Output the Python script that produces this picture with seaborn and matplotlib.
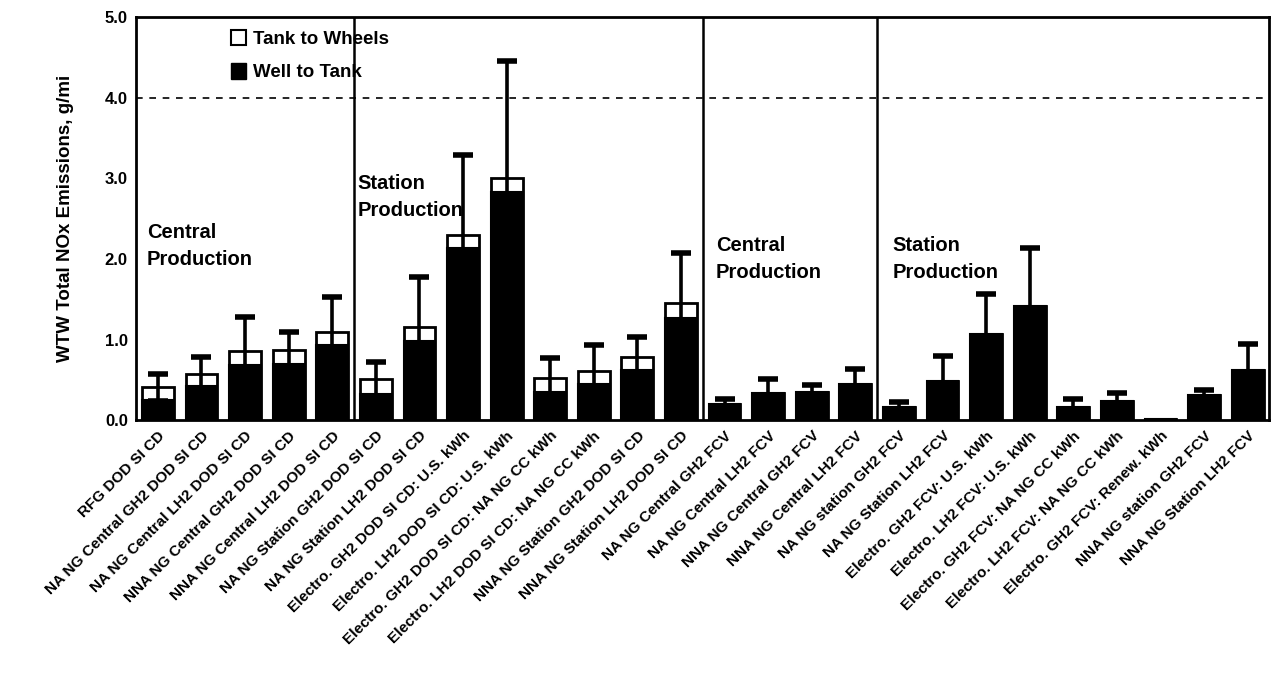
import numpy as np
import pandas as pd
import matplotlib
matplotlib.use("Agg")
import matplotlib.pyplot as plt
import matplotlib.patches as patches
import seaborn as sns

# --- data ---
categories = [
    "RFG DOD SI CD",
    "NA NG Central GH2 DOD SI CD",
    "NA NG Central LH2 DOD SI CD",
    "NNA NG Central GH2 DOD SI CD",
    "NNA NG Central LH2 DOD SI CD",
    "NA NG Station GH2 DOD SI CD",
    "NA NG Station LH2 DOD SI CD",
    "Electro. GH2 DOD SI CD: U.S. kWh",
    "Electro. LH2 DOD SI CD: U.S. kWh",
    "Electro. GH2 DOD SI CD: NA NG CC kWh",
    "Electro. LH2 DOD SI CD: NA NG CC kWh",
    "NNA NG Station GH2 DOD SI CD",
    "NNA NG Station LH2 DOD SI CD",
    "NA NG Central GH2 FCV",
    "NA NG Central LH2 FCV",
    "NNA NG Central GH2 FCV",
    "NNA NG Central LH2 FCV",
    "NA NG station GH2 FCV",
    "NA NG Station LH2 FCV",
    "Electro. GH2 FCV: U.S. kWh",
    "Electro. LH2 FCV: U.S. kWh",
    "Electro. GH2 FCV: NA NG CC kWh",
    "Electro. LH2 FCV: NA NG CC kWh",
    "Electro. GH2 FCV: Renew. kWh",
    "NNA NG station GH2 FCV",
    "NNA NG Station LH2 FCV",
]
well_to_tank = [0.25, 0.43, 0.68, 0.70, 0.93, 0.33, 0.98, 2.13, 2.83, 0.35, 0.45, 0.62, 1.27,
                0.20, 0.34, 0.35, 0.45, 0.17, 0.49, 1.07, 1.42, 0.17, 0.24, 0.01, 0.31, 0.62]
tank_to_wheels = [0.16, 0.15, 0.18, 0.17, 0.17, 0.18, 0.18, 0.17, 0.17, 0.17, 0.16, 0.17, 0.18,
                  0, 0, 0, 0, 0, 0, 0, 0, 0, 0, 0, 0, 0]
error = [0.17, 0.21, 0.42, 0.23, 0.43, 0.21, 0.62, 0.99, 1.45, 0.25, 0.32, 0.24, 0.62,
         0.06, 0.17, 0.09, 0.19, 0.06, 0.31, 0.49, 0.71, 0.09, 0.10, 0.0, 0.07, 0.32]
group_breaks = [4.5, 12.5, 16.5]
group_notes = [
    (-0.25, 2.16, "Central\nProduction"),
    (4.58, 2.77, "Station\nProduction"),
    (12.8, 2.0, "Central\nProduction"),
    (16.85, 2.0, "Station\nProduction"),
]

df = pd.DataFrame({
    "cat": categories,
    "wtt": well_to_tank,
    "ttw": tank_to_wheels,
    "err": error,
})
df["total"] = df["wtt"] + df["ttw"]

sns.set_style("white")
plt.rcParams["font.family"] = ["Liberation Sans", "DejaVu Sans"]
plt.rcParams["font.weight"] = "bold"
plt.rcParams["text.color"] = "black"
plt.rcParams["xtick.color"] = "black"
plt.rcParams["ytick.color"] = "black"
plt.rcParams["axes.labelcolor"] = "black"

fig = plt.figure(figsize=(12.72, 6.79), dpi=100)
ax = fig.add_axes([0.107, 0.381, 0.891, 0.594])

# stacked bars: white total underneath, black well-to-tank on top
sns.barplot(data=df, x="cat", y="total", color="white", edgecolor="black",
            linewidth=2, width=0.73, saturation=1, errorbar=None, ax=ax)
sns.barplot(data=df, x="cat", y="wtt", color="black", edgecolor="black",
            linewidth=1.5, width=0.73, saturation=1, errorbar=None, ax=ax)

has_err = df["err"] > 0
xpos = np.arange(len(df))[has_err.values]
ax.errorbar(xpos, df.loc[has_err, "total"], yerr=df.loc[has_err, "err"],
            fmt="none", ecolor="black", elinewidth=2.6, capsize=7, capthick=4)

ax.axhline(4.0, color="black", lw=1.2, ls=(0, (4, 4)))
for xb in group_breaks:
    ax.axvline(xb, color="black", lw=1.8)
for x, y, txt in group_notes:
    ax.text(x, y, txt, fontsize=14.5, fontweight="bold", va="center", ha="left",
            linespacing=1.5)

ax.set_xlim(-0.5, len(df) - 0.5)
ax.set_ylim(0, 5.0)
ax.set_yticks(np.arange(0, 5.01, 1.0))
ax.set_yticklabels([f"{v:.1f}" for v in np.arange(0, 5.01, 1.0)], fontsize=12, fontweight="bold")
ax.set_xticks(range(len(df)))
ax.set_xticklabels(categories, rotation=45, ha="right", rotation_mode="anchor",
                   fontsize=11, fontweight="bold")
ax.tick_params(axis="both", length=0, pad=6)
ax.set_xlabel("")
ax.set_ylabel("WTW Total NOx Emissions, g/mi", fontsize=13.5, fontweight="bold", labelpad=22)

for sp in ax.spines.values():
    sp.set_visible(True)
    sp.set_color("black")
    sp.set_linewidth(2)

handles = [
    patches.Patch(facecolor="white", edgecolor="black", linewidth=1.5, label="Tank to Wheels"),
    patches.Patch(facecolor="black", edgecolor="black", label="Well to Tank"),
]
ax.legend(handles=handles, loc="upper left", bbox_to_anchor=(0.084, 0.968), frameon=False,
          prop={"size": 13.5, "weight": "bold"}, handlelength=0.8, handleheight=0.9,
          handletextpad=0.35, labelspacing=0.8, borderpad=0, borderaxespad=0)

fig.savefig("out.png", dpi=100)
